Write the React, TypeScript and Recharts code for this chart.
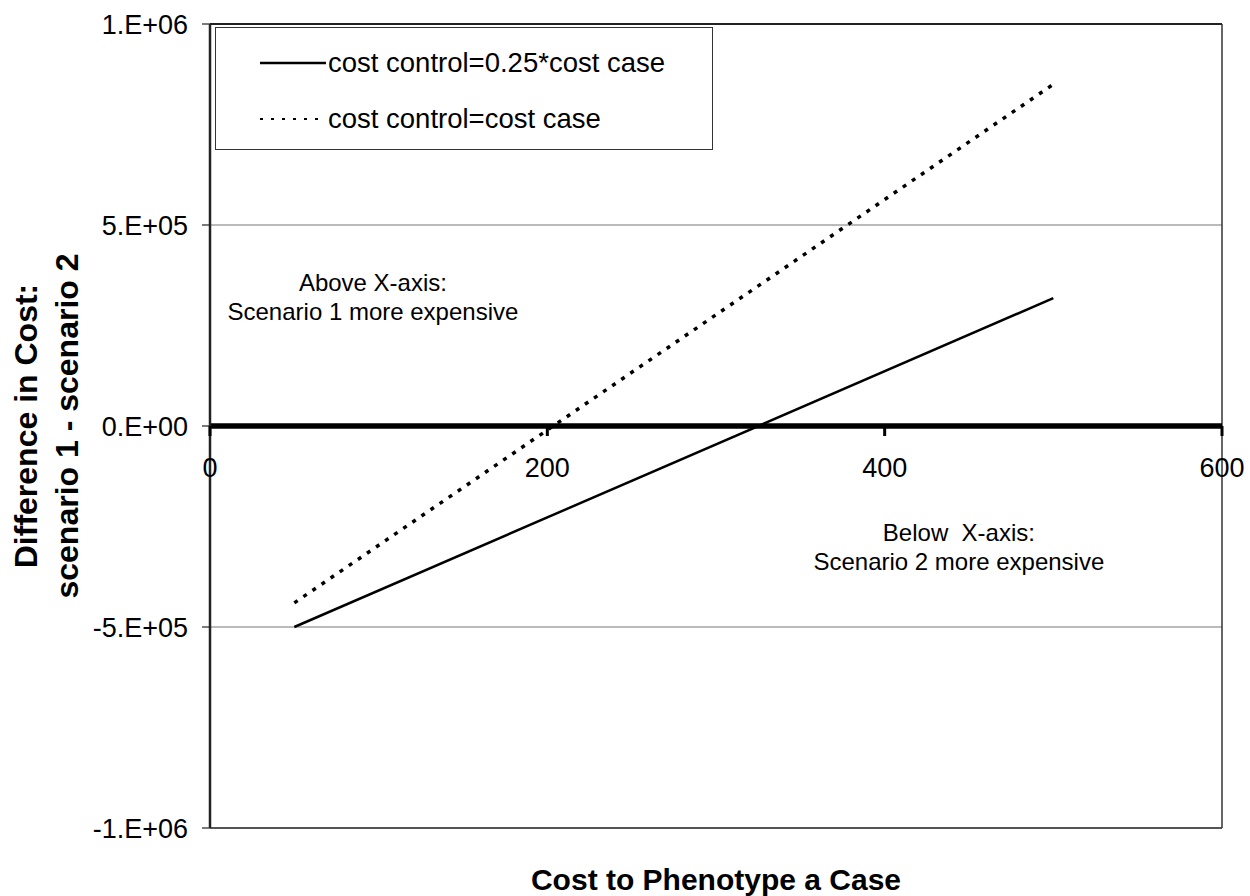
import React from 'react'
import { LineChart, Line, XAxis, YAxis, CartesianGrid, ReferenceLine, ReferenceDot, Legend } from 'recharts'

// cost to phenotype a case
const costCase = [50, 500]
// difference in cost, scenario 1 - scenario 2
const diffQuarter = [-500000, 318000]
const diffEqual = [-440000, 850000]

const seriesNames = ['cost control=0.25*cost case', 'cost control=cost case']

const yTicks = [-1000000, -500000, 0, 500000, 1000000]
const yTickLabels = ['-1.E+06', '-5.E+05', '0.E+00', '5.E+05', '1.E+06']
const xTicks = [0, 200, 400, 600]

const quarterData = costCase.map((x, i) => ({ x, y: diffQuarter[i] }))
const equalData = costCase.map((x, i) => ({ x, y: diffEqual[i] }))

const FONT = "Arial, 'Liberation Sans', sans-serif"

const notes = [
  { x: 96.6, y: 320000, lines: ['Above X-axis:', 'Scenario 1 more expensive'] },
  { x: 444, y: -302000, lines: ['Below  X-axis:', 'Scenario 2 more expensive'] },
]

function LegendBox({ payload }: any) {
  return (
    <div
      style={{
        width: 498,
        height: 123,
        border: '1.5px solid #333',
        boxSizing: 'border-box',
        background: '#fff',
        position: 'relative',
        fontFamily: FONT,
        fontSize: 27.5,
        color: '#000',
        whiteSpace: 'pre',
      }}
    >
      {(payload || []).map((e: any, i: number) => (
        <div key={i} style={{ position: 'absolute', left: 44, top: 35 + i * 56 - 16, height: 32, display: 'flex', alignItems: 'center' }}>
          <svg width={66} height={10} style={{ marginRight: 2 }}>
            <line x1={0} x2={66} y1={5} y2={5} stroke="#000" strokeWidth={i === 0 ? 2.5 : 2} strokeDasharray={i === 0 ? undefined : '3 8'} />
          </svg>
          <span>{e.value}</span>
        </div>
      ))}
    </div>
  )
}

export default function App() {
  return (
    <div style={{ position: 'absolute', top: 0, left: 0, width: 1250, height: 896, background: '#fff' }}>
      <LineChart width={1250} height={896} margin={{ top: 24, right: 28, left: 100, bottom: 0 }}>
        <CartesianGrid vertical={false} stroke="#777" strokeWidth={1} />
        <XAxis
          type="number"
          dataKey="x"
          domain={[0, 600]}
          ticks={xTicks}
          axisLine={false}
          tick={false}
          tickLine={false}
          height={68}
          label={{
            content: ({ viewBox }: any) => (
              <text x={viewBox.x + viewBox.width / 2} y={viewBox.y + 62} textAnchor="middle" fontFamily={FONT} fontSize={30} fontWeight="bold" fill="#000">
                Cost to Phenotype a Case
              </text>
            ),
          }}
        />
        <YAxis
          type="number"
          domain={[-1000000, 1000000]}
          ticks={yTicks}
          width={110}
          tickFormatter={(v: number) => yTickLabels[yTicks.indexOf(v)]}
          tick={{ fill: '#000', fontSize: 27, fontFamily: FONT }}
          tickSize={8}
          tickMargin={14}
          axisLine={{ stroke: '#222', strokeWidth: 2.5 }}
          tickLine={{ stroke: '#222', strokeWidth: 1.2 }}
          label={{
            content: ({ viewBox }: any) => {
              const cy = viewBox.y + viewBox.height / 2
              const x1 = viewBox.x - 63
              const x2 = viewBox.x - 22
              return (
                <g fontFamily={FONT} fontSize={32} fontWeight="bold" fill="#000">
                  <text x={x1} y={cy} textAnchor="middle" transform={`rotate(-90, ${x1}, ${cy})`}>
                    Difference in Cost:
                  </text>
                  <text x={x2} y={cy} textAnchor="middle" transform={`rotate(-90, ${x2}, ${cy})`}>
                    scenario 1 - scenario 2
                  </text>
                </g>
              )
            },
          }}
        />
        <ReferenceLine y={1000000} stroke="#222" strokeWidth={2} />
        <ReferenceLine y={-1000000} stroke="#333" strokeWidth={1.5} />
        <ReferenceLine x={600} stroke="#333" strokeWidth={1.5} />
        <ReferenceLine y={0} stroke="#000" strokeWidth={5.5} />
        {xTicks.map((t) => (
          <ReferenceDot
            key={t}
            x={t}
            y={0}
            r={0}
            ifOverflow="visible"
            shape={(p: any) => (
              <g>
                <line x1={p.cx} x2={p.cx} y1={p.cy} y2={p.cy + 10} stroke="#000" strokeWidth={3} />
                <text x={p.cx} y={p.cy + 51} textAnchor="middle" fontFamily={FONT} fontSize={27} fill="#000">
                  {t}
                </text>
              </g>
            )}
          />
        ))}
        {notes.map((n, i) => (
          <ReferenceDot
            key={'n' + i}
            x={n.x}
            y={n.y}
            r={0}
            ifOverflow="visible"
            shape={(p: any) => (
              <text x={p.cx} y={p.cy} textAnchor="middle" fontFamily={FONT} fontSize={24} fill="#000" style={{ whiteSpace: 'pre' }}>
                <tspan x={p.cx} dy={-6}>{n.lines[0]}</tspan>
                <tspan x={p.cx} dy={29}>{n.lines[1]}</tspan>
              </text>
            )}
          />
        ))}
        <Line
          data={quarterData}
          dataKey="y"
          name={seriesNames[0]}
          stroke="#000"
          strokeWidth={2.5}
          dot={false}
          activeDot={false}
          isAnimationActive={false}
        />
        <Line
          data={equalData}
          dataKey="y"
          name={seriesNames[1]}
          stroke="#000"
          strokeWidth={3.5}
          strokeDasharray="4 7"
          dot={false}
          activeDot={false}
          isAnimationActive={false}
        />
        <Legend
          layout="vertical"
          align="center"
          verticalAlign="middle"
          content={LegendBox}
          wrapperStyle={{ top: 27, left: 215, width: 498, height: 123 }}
        />
      </LineChart>
    </div>
  )
}
